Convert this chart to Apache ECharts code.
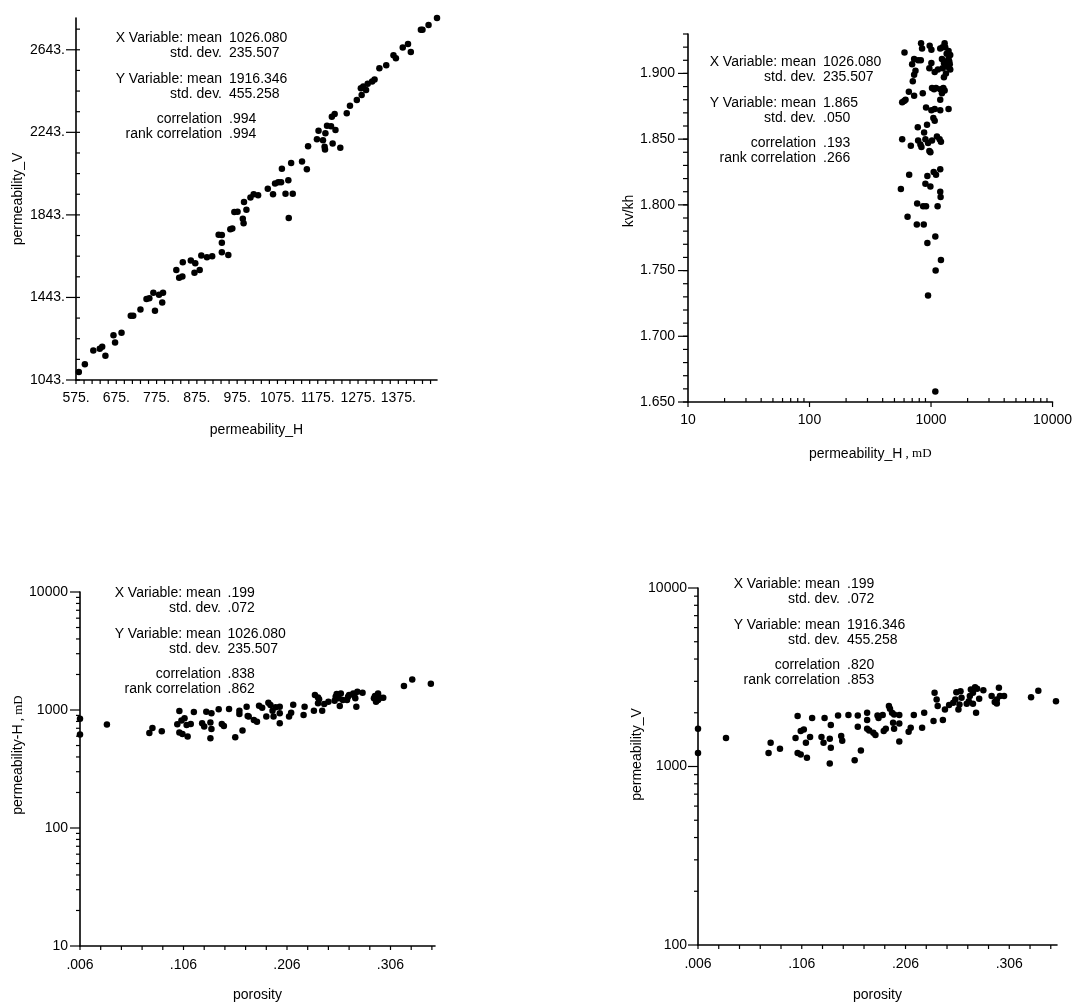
<!DOCTYPE html>
<html><head><meta charset="utf-8">
<script src="https://cdn.jsdelivr.net/npm/echarts/dist/echarts.min.js"></script>
<style>html,body{margin:0;padding:0;background:#fff}#chart{width:1075px;height:1003px}</style>
</head><body><div id="chart"></div>
<script>
// ---------- Panel 1: permeability_H vs permeability_V ----------
const p1PermH = [582,597,618,634,640,648,668,672,688,711,717,735,750,757,767,771,781,789,791,824,831,839,840,860,869,871,882,886,900,913,929,937,937,937,953,958,963,968,976,989,991,992,998,1008,1016,1027,1051,1064,1069,1077,1084,1086,1095,1102,1103,1109,1113,1136,1148,1151,1173,1177,1188,1192,1193,1194,1198,1208,1210,1212,1217,1219,1231,1247,1255,1272,1282,1284,1288,1295,1299,1310,1316,1328,1345,1363,1369,1386,1399,1406,1431,1435,1450,1471];
const p1PermV = [1082,1119,1186,1195,1204,1160,1260,1225,1272,1354,1354,1385,1435,1439,1466,1379,1456,1419,1466,1576,1539,1544,1614,1622,1563,1609,1576,1646,1638,1643,1747,1745,1708,1662,1649,1773,1777,1857,1858,1824,1803,1905,1868,1927,1943,1938,1970,1943,1995,2001,2001,2066,1946,2011,1828,2095,1946,2102,2064,2176,2210,2251,2205,2173,2160,2238,2275,2273,2319,2189,2332,2254,2168,2335,2372,2400,2457,2424,2465,2448,2478,2489,2499,2554,2568,2617,2602,2654,2671,2632,2740,2740,2763,2797];

// ---------- Panel 2: permeability_H (log) vs kv/kh ----------
const p2PermH = [605,828,844,975,1007,1294,1309,1191,1394,1439,1394,726,783,824,699,1007,969,1230,1309,1413,1361,1439,1327,1245,1140,1072,745,726,708,657,726,855,617,579,601,1019,1099,1191,1262,1230,1294,1191,910,1007,1072,1191,1394,1045,1072,927,778,877,579,682,783,818,834,899,945,969,988,1019,1119,1177,1207,661,565,933,1052,1099,1191,899,988,1191,1199,769,861,910,1133,641,764,871,1085,933,1207,1091,945,1085,1277,1345,1059,1245,1426,1277];
const p2KvKh = [1.916,1.923,1.919,1.921,1.918,1.923,1.920,1.919,1.917,1.914,1.911,1.911,1.910,1.910,1.907,1.908,1.904,1.911,1.909,1.909,1.905,1.903,1.900,1.904,1.903,1.901,1.902,1.899,1.894,1.886,1.883,1.885,1.880,1.878,1.879,1.889,1.889,1.888,1.889,1.885,1.887,1.880,1.874,1.872,1.873,1.872,1.873,1.866,1.864,1.861,1.859,1.855,1.850,1.845,1.849,1.846,1.844,1.850,1.847,1.841,1.840,1.849,1.852,1.850,1.848,1.823,1.812,1.822,1.825,1.823,1.827,1.816,1.814,1.810,1.806,1.801,1.799,1.799,1.799,1.791,1.785,1.785,1.776,1.771,1.758,1.750,1.731,1.658,1.908,1.915,1.888,1.920,1.907,1.897];

// ---------- Panel 3: porosity vs permeability-H (log) ----------
const p3Porosity = [.006,.006,.032,.073,.076,.085,.100,.102,.102,.104,.105,.107,.109,.110,.113,.116,.124,.126,.128,.132,.132,.133,.133,.140,.143,.145,.150,.156,.160,.160,.163,.167,.168,.169,.174,.177,.179,.182,.186,.188,.190,.192,.193,.195,.199,.199,.199,.208,.210,.212,.222,.223,.232,.233,.236,.237,.240,.242,.246,.253,.254,.256,.257,.258,.260,.264,.266,.270,.272,.273,.274,.279,.290,.291,.292,.294,.296,.299,.319,.327,.345,.252,.271,.294,.265,.236];
const p3PermH = [845,619,752,639,705,660,757,981,644,813,627,851,747,595,762,962,772,723,968,782,576,937,691,1013,762,732,1020,587,987,925,669,1067,890,879,823,797,1088,1046,879,1153,1102,987,879,1053,1067,772,937,879,950,1110,907,1067,987,1339,1279,1231,987,1124,1176,1296,1365,1255,1081,1383,1215,1215,1339,1383,1255,1067,1428,1401,1255,1313,1176,1383,1271,1271,1595,1816,1669,1199,1330,1215,1296,1139];

// ---------- Panel 4: porosity vs permeability_V (log) ----------
const p4Porosity = [.006,.006,.033,.074,.076,.085,.100,.102,.102,.105,.105,.108,.110,.111,.114,.116,.125,.127,.128,.133,.133,.134,.134,.141,.144,.145,.151,.157,.160,.160,.163,.169,.169,.169,.171,.175,.177,.179,.180,.184,.185,.187,.190,.191,.193,.194,.195,.195,.200,.200,.200,.209,.211,.214,.222,.224,.233,.234,.236,.237,.242,.244,.248,.254,.255,.257,.258,.259,.260,.265,.268,.269,.271,.273,.274,.275,.277,.281,.289,.292,.294,.296,.297,.301,.327,.334,.351,.252,.267,.294,.271];
const p4PermV = [1628,1190,1443,1190,1359,1258,1443,1916,1190,1169,1579,1614,1359,1121,1462,1867,1462,1359,1867,1431,1041,1274,1707,1932,1481,1394,1941,1083,1932,1670,1231,2000,1820,1628,1593,1546,1500,1932,1867,1941,1579,1628,2179,2106,2000,1759,1628,1957,1941,1743,1382,1566,1649,1941,1649,2000,1797,2587,2375,2179,1820,2088,2208,2375,2610,2088,2226,2644,2427,2246,2479,2701,2246,2783,2000,2725,2395,2678,2479,2295,2256,2760,2479,2479,2447,2655,2324,2275,2324,2375,2587];

// ---------- Statistics text ----------
const statLabels = ['X Variable: mean', 'std. dev.', 'Y Variable: mean', 'std. dev.', 'correlation', 'rank correlation'];
const p1Stats = ['1026.080', '235.507', '1916.346', '455.258', '.994', '.994'];
const p2Stats = ['1026.080', '235.507', '1.865', '.050', '.193', '.266'];
const p3Stats = ['.199', '.072', '1026.080', '235.507', '.838', '.862'];
const p4Stats = ['.199', '.072', '1916.346', '455.258', '.820', '.853'];

// ---------- Axis tick labels / extents ----------
const p1XTicks = [575, 1471, 100];      // min, max, label interval
const p1YTicks = [1043, 2797, 400];
const p2YTicks = [1.65, 1.93, 0.05];
const porTicks3 = [0.006, 0.349, 0.1];
const porTicks4 = [0.006, 0.352, 0.1];
const logRange2X = [10, 10000];
const logRange3Y = [10, 10000];
const logRange4Y = [100, 10000];

// ---------------------------------------------------------------
const FONT = '"Liberation Sans", Arial, Helvetica, sans-serif';
const FS = 14;
const zip = (a, b) => a.map((v, i) => [v, b[i]]);

function linVals(from, to, step) {
  const out = [];
  const n = Math.floor((to - from) / step + 1e-6);
  for (let i = 0; i <= n; i++) out.push(+(from + i * step).toFixed(6));
  return out;
}
function logMinor(lo, hi) {
  const out = [];
  for (let d = lo; d < hi; d *= 10) for (let m = 2; m <= 9; m++) out.push(m * d);
  return out;
}
function logMajor(lo, hi) {
  const out = [];
  for (let d = lo; d <= hi; d *= 10) out.push(d);
  return out;
}
// tick item: [x, y, dirX, dirY, len]
const xT = (vals, base, dir, len) => vals.map(v => [v, base, 0, dir, len]);
const yT = (vals, base, dir, len) => vals.map(v => [base, v, dir, 0, len]);

function tickSeries(idx, data) {
  return {
    type: 'custom', xAxisIndex: idx, yAxisIndex: idx, silent: true, clip: false, z: 5,
    animation: false, data: data,
    renderItem: function (params, api) {
      const p = api.coord([api.value(0), api.value(1)]);
      const dx = api.value(2), dy = api.value(3), len = api.value(4);
      return {
        type: 'line',
        shape: { x1: p[0], y1: p[1], x2: p[0] + dx * len, y2: p[1] + dy * len },
        style: { stroke: '#000', lineWidth: 1.2 }
      };
    }
  };
}
function scatter(idx, pts) {
  return {
    type: 'scatter', xAxisIndex: idx, yAxisIndex: idx, data: pts,
    symbol: 'circle', symbolSize: 6.5, itemStyle: { color: '#000', opacity: 1 },
    emphasis: { disabled: true }, animation: false, z: 4
  };
}

const axLine = { show: true, onZero: false, lineStyle: { color: '#000', width: 1.6 } };
const txt = { color: '#000', fontFamily: FONT, fontSize: FS };
function yLabel(fmt, margin) {
  return Object.assign({ formatter: fmt, margin: margin, showMaxLabel: false, showMinLabel: true,
    verticalAlign: 'middle', padding: [0, 0, 9, 0] }, txt);
}
function xLabel(fmt, margin) {
  return Object.assign({ formatter: fmt, margin: margin, showMaxLabel: false, showMinLabel: true }, txt);
}
const dotted = v => Math.round(v) + '.';
const fix3 = v => v.toFixed(3);
const por = v => (Math.round(v * 1000) / 1000).toFixed(3).replace(/^0/, '');
const logFmt = v => String(Math.round(v));

function valAxis(range, extra) {
  return Object.assign({
    type: 'value', min: range[0], max: range[1], interval: range[2], scale: true,
    axisLine: axLine, axisTick: { show: false }, splitLine: { show: false }, minorTick: { show: false }
  }, extra);
}
function logAxis(range, extra) {
  return Object.assign({
    type: 'log', logBase: 10, min: range[0], max: range[1],
    axisLine: axLine, axisTick: { show: false }, splitLine: { show: false }, minorTick: { show: false }
  }, extra);
}
const nameStyle = pad => Object.assign({ padding: pad || 0 }, txt);

const option = {
  backgroundColor: '#fff',
  animation: false,
  grid: [
    { left: 76, top: 18, width: 361, height: 362 },
    { left: 688, top: 34, width: 366, height: 368 },
    { left: 80, top: 592, width: 355, height: 355 },
    { left: 698, top: 588, width: 359, height: 358 }
  ],
  xAxis: [
    valAxis(p1XTicks, { gridIndex: 0, name: 'permeability_H', nameLocation: 'middle', nameGap: 43,
      nameTextStyle: nameStyle(), axisLabel: xLabel(dotted, 11) }),
    logAxis(logRange2X, { gridIndex: 1, name: '{a|permeability_H}{b| , mD}', nameLocation: 'middle', nameGap: 45,
      nameTextStyle: Object.assign({ rich: { a: txt, b: { color: '#000', fontFamily: '"Liberation Serif", serif', fontSize: 13 } } }, txt),
      axisLabel: Object.assign({ formatter: logFmt, margin: 11, showMaxLabel: true }, txt) }),
    valAxis(porTicks3, { gridIndex: 2, name: 'porosity', nameLocation: 'middle', nameGap: 42,
      nameTextStyle: nameStyle(), axisLabel: xLabel(por, 12) }),
    valAxis(porTicks4, { gridIndex: 3, name: 'porosity', nameLocation: 'middle', nameGap: 43,
      nameTextStyle: nameStyle(), axisLabel: xLabel(por, 12) })
  ],
  yAxis: [
    valAxis(p1YTicks, { gridIndex: 0, name: 'permeability_V', nameLocation: 'middle', nameGap: 51,
      nameTextStyle: nameStyle(), axisLabel: yLabel(dotted, 11) }),
    valAxis(p2YTicks, { gridIndex: 1, name: 'kv/kh', nameLocation: 'middle', nameGap: 26,
      nameTextStyle: nameStyle([0, 0, 0, 14]), axisLabel: yLabel(fix3, 13) }),
    logAxis(logRange3Y, { gridIndex: 2, name: '{a|permeability-H}{b| , mD}', nameLocation: 'middle', nameGap: 48,
      nameTextStyle: Object.assign({ padding: [0, 0, 0, 28], rich: { a: txt, b: { color: '#000', fontFamily: '"Liberation Serif", serif', fontSize: 13 } } }, txt),
      axisLabel: Object.assign({ formatter: logFmt, margin: 12, showMaxLabel: true, verticalAlign: 'middle', padding: [0, 0, 9, 0] }, txt) }),
    logAxis(logRange4Y, { gridIndex: 3, name: 'permeability_V', nameLocation: 'middle', nameGap: 46,
      nameTextStyle: nameStyle([0, 0, 0, 24]),
      axisLabel: Object.assign({ formatter: logFmt, margin: 11, showMaxLabel: true, verticalAlign: 'middle', padding: [0, 0, 9, 0] }, txt) })
  ],
  series: [
    scatter(0, zip(p1PermH, p1PermV)),
    scatter(1, zip(p2PermH, p2KvKh)),
    scatter(2, zip(p3Porosity, p3PermH)),
    scatter(3, zip(p4Porosity, p4PermV)),
    tickSeries(0, [].concat(
      xT(linVals(p1XTicks[0], p1XTicks[1], 20), p1YTicks[0], 1, 4),
      yT(linVals(p1YTicks[0], p1YTicks[1], 100), p1XTicks[0], 1, 4),
      yT(linVals(p1YTicks[0], p1YTicks[1], p1YTicks[2]), p1XTicks[0], -1, 10)
    )),
    tickSeries(1, [].concat(
      xT(logMinor(logRange2X[0], logRange2X[1]), p2YTicks[0], -1, 4),
      xT(logMajor(logRange2X[0], logRange2X[1]), p2YTicks[0], 1, 5),
      yT(linVals(p2YTicks[0], p2YTicks[1], 0.01), logRange2X[0], -1, 5),
      yT(linVals(p2YTicks[0], p2YTicks[1], p2YTicks[2]), logRange2X[0], -1, 10)
    )),
    tickSeries(2, [].concat(
      xT(linVals(porTicks3[0], 0.346, 0.02), logRange3Y[0], 1, 4),
      yT(logMinor(logRange3Y[0], logRange3Y[1]), porTicks3[0], -1, 4),
      yT(logMajor(logRange3Y[0], logRange3Y[1]), porTicks3[0], -1, 10)
    )),
    tickSeries(3, [].concat(
      xT(linVals(porTicks4[0], 0.346, 0.02), logRange4Y[0], 1, 4),
      yT(logMinor(logRange4Y[0], logRange4Y[1]), porTicks4[0], -1, 4),
      yT(logMajor(logRange4Y[0], logRange4Y[1]), porTicks4[0], -1, 10)
    ))
  ],
  graphic: []
};

// statistics blocks (label right-aligned, value left-aligned)
const lineOffsets = [0, 15.3, 41, 56.3, 81.3, 96.3];
const blocks = [
  { vals: p1Stats, labelRight: 222, valueLeft: 229, top: 37.7 },
  { vals: p2Stats, labelRight: 816, valueLeft: 823, top: 61.7 },
  { vals: p3Stats, labelRight: 221, valueLeft: 227.5, top: 593.3 },
  { vals: p4Stats, labelRight: 840, valueLeft: 847, top: 584 }
];
blocks.forEach(b => {
  statLabels.forEach((lab, i) => {
    const y = b.top + lineOffsets[i];
    option.graphic.push({ type: 'text', x: b.labelRight, y: y, silent: true,
      style: { text: lab, fill: '#000', font: FS + 'px ' + FONT, align: 'right', textAlign: 'right', verticalAlign: 'middle', textVerticalAlign: 'middle' } });
    option.graphic.push({ type: 'text', x: b.valueLeft, y: y, silent: true,
      style: { text: b.vals[i], fill: '#000', font: FS + 'px ' + FONT, align: 'left', textAlign: 'left', verticalAlign: 'middle', textVerticalAlign: 'middle' } });
  });
});

const chart = echarts.init(document.getElementById('chart'), null, { renderer: 'canvas' });
chart.setOption(option);
</script></body></html>
